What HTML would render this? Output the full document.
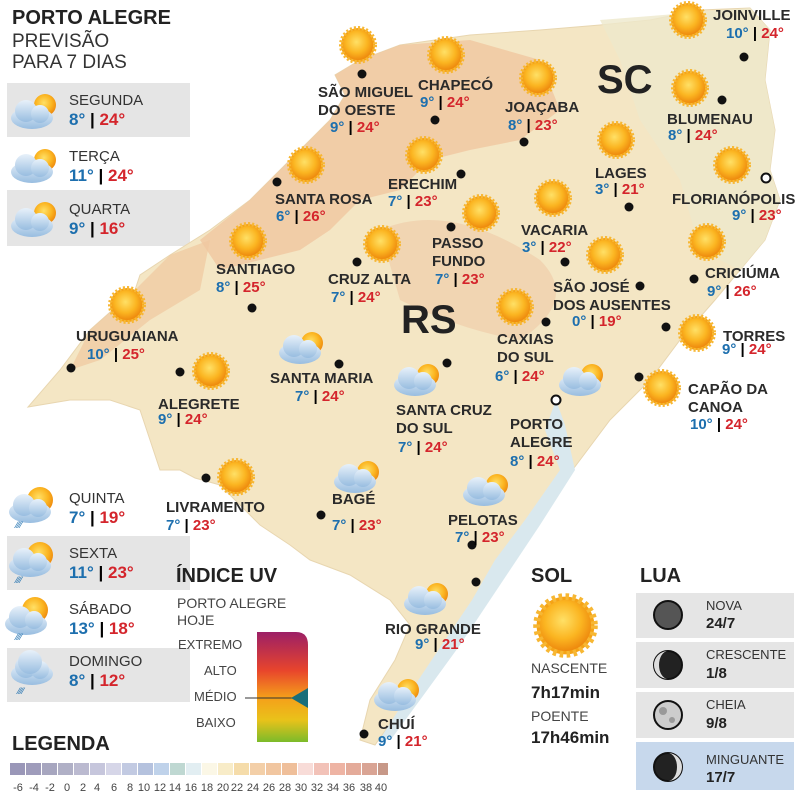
<!DOCTYPE html>
<html><head><meta charset="utf-8"><style>
body{margin:0;width:800px;height:797px;background:#fff;position:relative;overflow:hidden;font-family:"Liberation Sans Narrow","Liberation Sans",sans-serif;}
.a{position:absolute;white-space:nowrap;line-height:18px;}
.l{font-size:15px;font-weight:bold;color:#2a2a2a;}
.t{font-size:15px;font-weight:bold;}
.b{color:#1d6fae}.r{color:#d4252c}
.g{position:absolute;background:#e5e5e5;}
.d{font-size:15px;color:#333;}
</style></head><body>
<svg width="800" height="797" style="position:absolute;left:0;top:0">
<defs>
<radialGradient id="sun" cx="45%" cy="40%" r="60%"><stop offset="0" stop-color="#ffe066"/><stop offset="0.6" stop-color="#fbb521"/><stop offset="1" stop-color="#ee8a0e"/></radialGradient>
<linearGradient id="cl" x1="0" y1="0" x2="0" y2="1"><stop offset="0" stop-color="#e8f1fa"/><stop offset="1" stop-color="#98bde0"/></linearGradient>
<linearGradient id="uv" x1="0" y1="0" x2="0" y2="1"><stop offset="0" stop-color="#9c1f66"/><stop offset="0.35" stop-color="#e8452c"/><stop offset="0.6" stop-color="#f5a01a"/><stop offset="0.8" stop-color="#e9c21a"/><stop offset="1" stop-color="#7cbb2a"/></linearGradient>
<g id="s"><circle r="17" fill="#f5a316" stroke="#f7b733" stroke-width="4" stroke-dasharray="2 2"/><circle r="15" fill="url(#sun)"/></g>
<g id="c"><ellipse cx="0" cy="0" rx="21" ry="11" fill="url(#cl)"/><circle cx="-6" cy="-7" r="11" fill="url(#cl)"/><circle cx="8" cy="-4" r="9" fill="url(#cl)"/></g>
</defs>
<polygon fill="#f4e6c4" stroke="#e8d6b0" points="330,120 345,95 335,75 360,60 400,45 470,35 540,30 600,25 650,20 700,10 750,8 770,30 765,80 775,130 770,170 780,200 765,240 740,270 715,300 680,340 650,380 610,420 580,460 550,500 520,540 500,570 480,600 460,640 430,680 400,710 375,745 360,740 370,700 395,660 410,625 390,600 350,575 310,560 290,545 260,525 220,485 195,478 180,470 160,470 150,440 140,410 110,400 70,400 28,407 60,370 90,330 135,290 140,275 170,255 210,230 250,200 290,160"/>
<path d="M330,120 L345,95 335,75 360,60 400,45 470,40 540,60 560,110 520,140 470,150 430,160 400,190 360,200 330,230 300,250 260,260 220,270 200,240 250,200 290,160Z" fill="#f0c7a0" opacity="0.8"/>
<path d="M135,290 L170,255 210,240 200,290 150,320 100,360 70,370 90,330Z" fill="#f0c7a0" opacity="0.7"/>
<path d="M380,230 Q450,200 540,260 Q580,300 520,340 Q460,330 400,300Z" fill="#efc9a6" opacity="0.6"/>
<path d="M600,20 L750,8 770,30 765,80 775,130 770,170 780,200 765,240 740,270 700,250 680,180 640,120 620,60Z" fill="#eee8cc" opacity="0.8"/>
<polygon fill="#d9e8ee" points="556,400 545,430 560,470 525,520 495,560 472,600 445,640 405,700 378,742 392,738 420,700 460,645 500,585 540,525 575,470 565,425"/>
<g fill="#111">
<circle cx="362" cy="74" r="4.5"/><circle cx="435" cy="120" r="4.5"/><circle cx="524" cy="142" r="4.5"/><circle cx="744" cy="57" r="4.5"/><circle cx="722" cy="100" r="4.5"/><circle cx="629" cy="207" r="4.5"/><circle cx="277" cy="182" r="4.5"/><circle cx="461" cy="174" r="4.5"/><circle cx="451" cy="227" r="4.5"/><circle cx="565" cy="262" r="4.5"/><circle cx="694" cy="279" r="4.5"/><circle cx="357" cy="262" r="4.5"/><circle cx="640" cy="286" r="4.5"/><circle cx="666" cy="327" r="4.5"/><circle cx="546" cy="322" r="4.5"/><circle cx="339" cy="364" r="4.5"/><circle cx="447" cy="363" r="4.5"/><circle cx="639" cy="377" r="4.5"/><circle cx="180" cy="372" r="4.5"/><circle cx="71" cy="368" r="4.5"/><circle cx="252" cy="308" r="4.5"/><circle cx="206" cy="478" r="4.5"/><circle cx="321" cy="515" r="4.5"/><circle cx="472" cy="545" r="4.5"/><circle cx="476" cy="582" r="4.5"/><circle cx="364" cy="734" r="4.5"/>
</g>
<circle cx="766" cy="178" r="4.5" fill="#fff" stroke="#111" stroke-width="2"/><circle cx="556" cy="400" r="4.5" fill="#fff" stroke="#111" stroke-width="2"/>
<use href="#s" x="358" y="45"/><use href="#s" x="446" y="55"/><use href="#s" x="538" y="78"/><use href="#s" x="688" y="20"/><use href="#s" x="690" y="88"/><use href="#s" x="616" y="140"/><use href="#s" x="732" y="165"/><use href="#s" x="306" y="165"/><use href="#s" x="424" y="155"/><use href="#s" x="481" y="213"/><use href="#s" x="553" y="198"/><use href="#s" x="707" y="242"/><use href="#s" x="382" y="244"/><use href="#s" x="605" y="255"/><use href="#s" x="697" y="333"/><use href="#s" x="515" y="307"/><use href="#s" x="662" y="388"/><use href="#s" x="211" y="371"/><use href="#s" x="127" y="305"/><use href="#s" x="248" y="241"/><use href="#s" x="236" y="477"/>
<g><circle cx="312" cy="343" r="11" fill="url(#sun)"/><use href="#c" x="300" y="353"/></g>
<g><circle cx="428" cy="375" r="11" fill="url(#sun)"/><use href="#c" x="415" y="385"/></g>
<g><circle cx="592" cy="375" r="11" fill="url(#sun)"/><use href="#c" x="580" y="385"/></g>
<g><circle cx="368" cy="472" r="11" fill="url(#sun)"/><use href="#c" x="355" y="482"/></g>
<g><circle cx="497" cy="485" r="11" fill="url(#sun)"/><use href="#c" x="484" y="495"/></g>
<g><circle cx="437" cy="594" r="11" fill="url(#sun)"/><use href="#c" x="425" y="604"/></g>
<g><circle cx="408" cy="690" r="11" fill="url(#sun)"/><use href="#c" x="395" y="700"/></g>
<g><circle cx="45" cy="105" r="11" fill="url(#sun)"/><use href="#c" x="32" y="118"/></g>
<g><circle cx="45" cy="160" r="11" fill="url(#sun)"/><use href="#c" x="32" y="172"/></g>
<g><circle cx="45" cy="213" r="11" fill="url(#sun)"/><use href="#c" x="32" y="226"/></g>
<g><circle cx="40" cy="500" r="13" fill="url(#sun)"/><use href="#c" x="30" y="512"/></g>
<g><circle cx="40" cy="555" r="13" fill="url(#sun)"/><use href="#c" x="30" y="566"/></g>
<g><circle cx="35" cy="610" r="13" fill="url(#sun)"/><use href="#c" x="26" y="624"/></g>
<g><use href="#c" x="32" y="674"/><circle cx="30" cy="662" r="12" fill="url(#cl)"/></g>
<g fill="#1d6fae" font-size="9"><text x="16" y="528">⁄⁄⁄⁄</text><text x="16" y="583">⁄⁄⁄⁄</text><text x="16" y="640">⁄⁄⁄⁄</text><text x="18" y="694">⁄⁄⁄⁄</text></g>
<path d="M257,632 H296 Q308,632 308,645 V742 H257Z" fill="url(#uv)"/>
<line x1="245" y1="698" x2="300" y2="698" stroke="#333" stroke-width="1"/>
<polygon points="291,698 308,688 308,708" fill="#1a6e7a"/>
<use href="#s" x="565" y="625" transform="translate(-395,-437) scale(1.7)"/>
<g>
<rect x="10" y="763" width="15" height="12" fill="#9a97b8"/><rect x="26" y="763" width="15" height="12" fill="#9f9cbb"/><rect x="42" y="763" width="15" height="12" fill="#a7a6bf"/><rect x="58" y="763" width="15" height="12" fill="#b0b0c6"/><rect x="74" y="763" width="15" height="12" fill="#bbbad0"/><rect x="90" y="763" width="15" height="12" fill="#c6c6dc"/><rect x="106" y="763" width="15" height="12" fill="#d6d6e8"/><rect x="122" y="763" width="15" height="12" fill="#c2cae2"/><rect x="138" y="763" width="15" height="12" fill="#b5c2de"/><rect x="154" y="763" width="15" height="12" fill="#bfd2ea"/><rect x="170" y="763" width="15" height="12" fill="#bfd8d2"/><rect x="186" y="763" width="15" height="12" fill="#e2eef2"/><rect x="202" y="763" width="15" height="12" fill="#fbf7e6"/><rect x="218" y="763" width="15" height="12" fill="#f8ecc8"/><rect x="234" y="763" width="15" height="12" fill="#f5dcaa"/><rect x="250" y="763" width="15" height="12" fill="#f3cfa8"/><rect x="266" y="763" width="15" height="12" fill="#f1c6a0"/><rect x="282" y="763" width="15" height="12" fill="#efbf9a"/><rect x="298" y="763" width="15" height="12" fill="#f8dcd8"/><rect x="314" y="763" width="15" height="12" fill="#f2c2b8"/><rect x="330" y="763" width="15" height="12" fill="#eeb4a4"/><rect x="346" y="763" width="15" height="12" fill="#e4ab9a"/><rect x="362" y="763" width="15" height="12" fill="#d9a494"/><rect x="378" y="763" width="10" height="12" fill="#c79888"/>
</g>
<g font-family="Liberation Sans Narrow,Liberation Sans,sans-serif" font-size="11" fill="#444" text-anchor="middle">
<text x="18" y="791">-6</text><text x="34" y="791">-4</text><text x="50" y="791">-2</text><text x="67" y="791">0</text><text x="83" y="791">2</text><text x="97" y="791">4</text><text x="114" y="791">6</text><text x="130" y="791">8</text><text x="144" y="791">10</text><text x="160" y="791">12</text><text x="175" y="791">14</text><text x="191" y="791">16</text><text x="207" y="791">18</text><text x="223" y="791">20</text><text x="237" y="791">22</text><text x="253" y="791">24</text><text x="269" y="791">26</text><text x="285" y="791">28</text><text x="301" y="791">30</text><text x="317" y="791">32</text><text x="333" y="791">34</text><text x="349" y="791">36</text><text x="366" y="791">38</text><text x="381" y="791">40</text>
</g>
<rect x="636" y="593" width="158" height="45" fill="#e5e5e5"/><rect x="636" y="642" width="158" height="46" fill="#e5e5e5"/><rect x="636" y="692" width="158" height="46" fill="#e5e5e5"/><rect x="636" y="742" width="158" height="48" fill="#c7d8ec"/>
<circle cx="668" cy="615" r="14" fill="#555" stroke="#111" stroke-width="2"/>
<circle cx="668" cy="665" r="14" fill="#222" stroke="#111" stroke-width="2"/><path d="M668,651 A14,14 0 0 0 668,679 A9,14 0 0 1 668,651Z" fill="#ddd"/>
<circle cx="668" cy="715" r="14" fill="#ccc" stroke="#111" stroke-width="2"/><circle cx="663" cy="711" r="4" fill="#999"/><circle cx="672" cy="720" r="3" fill="#999"/>
<circle cx="668" cy="767" r="14" fill="#222" stroke="#111" stroke-width="2"/><path d="M668,753 A14,14 0 0 1 668,781 A9,14 0 0 0 668,753Z" fill="#ddd"/>
</svg>
<div class="a" style="left:12px;top:8px;font-size:20px;font-weight:bold;color:#222;line-height:21px">PORTO ALEGRE</div>
<div class="a" style="left:12px;top:31px;font-size:19px;color:#333;line-height:21px">PREVISÃO<br>PARA 7 DIAS</div>
<div class="g" style="left:7px;top:83px;width:183px;height:54px;z-index:-1"></div>
<div class="g" style="left:7px;top:190px;width:183px;height:56px;z-index:-1"></div>
<div class="g" style="left:7px;top:536px;width:183px;height:54px;z-index:-1"></div>
<div class="g" style="left:7px;top:648px;width:183px;height:54px;z-index:-1"></div>
<div class="a d" style="left:69px;top:92px">SEGUNDA</div><div class="a t" style="left:69px;top:111px;font-size:17px"><span class="b">8°</span> | <span class="r">24°</span></div>
<div class="a d" style="left:69px;top:148px">TERÇA</div><div class="a t" style="left:69px;top:167px;font-size:17px"><span class="b">11°</span> | <span class="r">24°</span></div>
<div class="a d" style="left:69px;top:201px">QUARTA</div><div class="a t" style="left:69px;top:220px;font-size:17px"><span class="b">9°</span> | <span class="r">16°</span></div>
<div class="a d" style="left:69px;top:490px">QUINTA</div><div class="a t" style="left:69px;top:509px;font-size:17px"><span class="b">7°</span> | <span class="r">19°</span></div>
<div class="a d" style="left:69px;top:545px">SEXTA</div><div class="a t" style="left:69px;top:564px;font-size:17px"><span class="b">11°</span> | <span class="r">23°</span></div>
<div class="a d" style="left:69px;top:601px">SÁBADO</div><div class="a t" style="left:69px;top:620px;font-size:17px"><span class="b">13°</span> | <span class="r">18°</span></div>
<div class="a d" style="left:69px;top:653px">DOMINGO</div><div class="a t" style="left:69px;top:672px;font-size:17px"><span class="b">8°</span> | <span class="r">12°</span></div>
<div class="a" style="left:12px;top:735px;font-size:20px;font-weight:bold;color:#222">LEGENDA</div>
<div class="a" style="left:176px;top:567px;font-size:20px;font-weight:bold;color:#222">ÍNDICE UV</div>
<div class="a" style="left:177px;top:595px;font-size:14px;color:#444;line-height:17px">PORTO ALEGRE<br>HOJE</div>
<div class="a" style="left:178px;top:636px;font-size:13px;color:#444">EXTREMO</div>
<div class="a" style="left:204px;top:662px;font-size:13px;color:#444">ALTO</div>
<div class="a" style="left:194px;top:688px;font-size:13px;color:#444">MÉDIO</div>
<div class="a" style="left:196px;top:714px;font-size:13px;color:#444">BAIXO</div>
<div class="a" style="left:531px;top:567px;font-size:20px;font-weight:bold;color:#222">SOL</div>
<div class="a" style="left:531px;top:659px;font-size:14px;color:#444">NASCENTE</div>
<div class="a" style="left:531px;top:684px;font-size:17px;font-weight:bold;color:#222">7h17min</div>
<div class="a" style="left:531px;top:707px;font-size:14px;color:#444">POENTE</div>
<div class="a" style="left:531px;top:729px;font-size:17px;font-weight:bold;color:#222">17h46min</div>
<div class="a" style="left:640px;top:567px;font-size:20px;font-weight:bold;color:#222">LUA</div>
<div class="a" style="left:706px;top:597px;font-size:13px;color:#333">NOVA</div><div class="a" style="left:706px;top:615px;font-size:15px;font-weight:bold;color:#222">24/7</div>
<div class="a" style="left:706px;top:646px;font-size:13px;color:#333">CRESCENTE</div><div class="a" style="left:706px;top:665px;font-size:15px;font-weight:bold;color:#222">1/8</div>
<div class="a" style="left:706px;top:696px;font-size:13px;color:#333">CHEIA</div><div class="a" style="left:706px;top:715px;font-size:15px;font-weight:bold;color:#222">9/8</div>
<div class="a" style="left:706px;top:751px;font-size:13px;color:#333">MINGUANTE</div><div class="a" style="left:706px;top:769px;font-size:15px;font-weight:bold;color:#222">17/7</div>
<div class="a" style="left:597px;top:58px;font-size:40px;font-weight:bold;color:#222;line-height:44px">SC</div>
<div class="a" style="left:401px;top:298px;font-size:40px;font-weight:bold;color:#222;line-height:44px">RS</div>
<div class="a l" style="left:318px;top:84px">SÃO MIGUEL<br>DO OESTE</div><div class="a t" style="left:330px;top:119px"><span class="b">9°</span> | <span class="r">24°</span></div>
<div class="a l" style="left:418px;top:77px">CHAPECÓ</div><div class="a t" style="left:420px;top:94px"><span class="b">9°</span> | <span class="r">24°</span></div>
<div class="a l" style="left:505px;top:99px">JOAÇABA</div><div class="a t" style="left:508px;top:117px"><span class="b">8°</span> | <span class="r">23°</span></div>
<div class="a l" style="left:713px;top:7px">JOINVILLE</div><div class="a t" style="left:726px;top:25px"><span class="b">10°</span> | <span class="r">24°</span></div>
<div class="a l" style="left:667px;top:111px">BLUMENAU</div><div class="a t" style="left:668px;top:127px"><span class="b">8°</span> | <span class="r">24°</span></div>
<div class="a l" style="left:595px;top:165px">LAGES</div><div class="a t" style="left:595px;top:181px"><span class="b">3°</span> | <span class="r">21°</span></div>
<div class="a l" style="left:672px;top:191px">FLORIANÓPOLIS</div><div class="a t" style="left:732px;top:207px"><span class="b">9°</span> | <span class="r">23°</span></div>
<div class="a l" style="left:275px;top:191px">SANTA ROSA</div><div class="a t" style="left:276px;top:208px"><span class="b">6°</span> | <span class="r">26°</span></div>
<div class="a l" style="left:388px;top:176px">ERECHIM</div><div class="a t" style="left:388px;top:193px"><span class="b">7°</span> | <span class="r">23°</span></div>
<div class="a l" style="left:432px;top:235px">PASSO<br>FUNDO</div><div class="a t" style="left:435px;top:271px"><span class="b">7°</span> | <span class="r">23°</span></div>
<div class="a l" style="left:521px;top:222px">VACARIA</div><div class="a t" style="left:522px;top:239px"><span class="b">3°</span> | <span class="r">22°</span></div>
<div class="a l" style="left:705px;top:265px">CRICIÚMA</div><div class="a t" style="left:707px;top:283px"><span class="b">9°</span> | <span class="r">26°</span></div>
<div class="a l" style="left:216px;top:261px">SANTIAGO</div><div class="a t" style="left:216px;top:279px"><span class="b">8°</span> | <span class="r">25°</span></div>
<div class="a l" style="left:328px;top:271px">CRUZ ALTA</div><div class="a t" style="left:331px;top:289px"><span class="b">7°</span> | <span class="r">24°</span></div>
<div class="a l" style="left:553px;top:279px">SÃO JOSÉ<br>DOS AUSENTES</div><div class="a t" style="left:572px;top:313px"><span class="b">0°</span> | <span class="r">19°</span></div>
<div class="a l" style="left:723px;top:328px">TORRES</div><div class="a t" style="left:722px;top:341px"><span class="b">9°</span> | <span class="r">24°</span></div>
<div class="a l" style="left:497px;top:331px">CAXIAS<br>DO SUL</div><div class="a t" style="left:495px;top:368px"><span class="b">6°</span> | <span class="r">24°</span></div>
<div class="a l" style="left:76px;top:328px">URUGUAIANA</div><div class="a t" style="left:87px;top:346px"><span class="b">10°</span> | <span class="r">25°</span></div>
<div class="a l" style="left:270px;top:370px">SANTA MARIA</div><div class="a t" style="left:295px;top:388px"><span class="b">7°</span> | <span class="r">24°</span></div>
<div class="a l" style="left:158px;top:396px">ALEGRETE</div><div class="a t" style="left:158px;top:411px"><span class="b">9°</span> | <span class="r">24°</span></div>
<div class="a l" style="left:396px;top:402px">SANTA CRUZ<br>DO SUL</div><div class="a t" style="left:398px;top:439px"><span class="b">7°</span> | <span class="r">24°</span></div>
<div class="a l" style="left:510px;top:416px">PORTO<br>ALEGRE</div><div class="a t" style="left:510px;top:453px"><span class="b">8°</span> | <span class="r">24°</span></div>
<div class="a l" style="left:688px;top:381px">CAPÃO DA<br>CANOA</div><div class="a t" style="left:690px;top:416px"><span class="b">10°</span> | <span class="r">24°</span></div>
<div class="a l" style="left:166px;top:499px">LIVRAMENTO</div><div class="a t" style="left:166px;top:517px"><span class="b">7°</span> | <span class="r">23°</span></div>
<div class="a l" style="left:332px;top:491px">BAGÉ</div><div class="a t" style="left:332px;top:517px"><span class="b">7°</span> | <span class="r">23°</span></div>
<div class="a l" style="left:448px;top:512px">PELOTAS</div><div class="a t" style="left:455px;top:529px"><span class="b">7°</span> | <span class="r">23°</span></div>
<div class="a l" style="left:385px;top:621px">RIO GRANDE</div><div class="a t" style="left:415px;top:636px"><span class="b">9°</span> | <span class="r">21°</span></div>
<div class="a l" style="left:378px;top:716px">CHUÍ</div><div class="a t" style="left:378px;top:733px"><span class="b">9°</span> | <span class="r">21°</span></div>
</body></html>
